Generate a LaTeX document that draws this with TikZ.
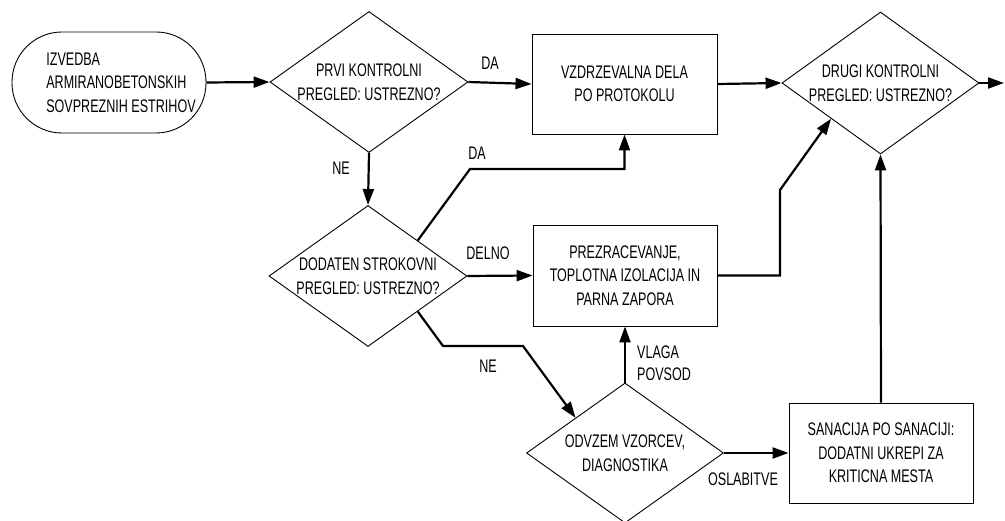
\documentclass[tikz,border=0pt]{standalone}
\usepackage{fontspec}
\setmainfont{Liberation Sans}[FakeStretch=0.69]
\usetikzlibrary{shapes.geometric,arrows.meta}
\tikzset{
  txt/.style={font=\fontsize{18.2}{23.5}\selectfont, align=center},
  procbox/.style={txt, draw, line width=0.9pt, minimum width=184pt, minimum height=100pt, inner sep=0pt},
  decbox/.style={txt, draw, diamond, line width=0.9pt, aspect=1.4, inner sep=0pt, minimum width=198pt, minimum height=141pt},
  termbox/.style={txt, draw, line width=0.9pt, rounded corners=50pt, minimum width=194pt, minimum height=101pt, inner sep=0pt, align=left},
  flow/.style={line width=2.2pt, -{Triangle[length=16pt,width=11pt]}},
  lbl/.style={font=\fontsize{18.2}{22}\selectfont, inner sep=0pt}
}
\begin{document}
\begin{tikzpicture}[x=1pt,y=-1pt]
\useasboundingbox (0,0) rectangle (1005,521);
\node[termbox] (start) at (109,82.5) {\hspace*{24pt}IZVEDBA\\\hspace*{24pt}ARMIRANOBETONSKIH\\\hspace*{24pt}SOVPREZNIH ESTRIHOV};
\node[decbox] (d1) at (369,82) {PRVI KONTROLNI\\PREGLED: USTREZNO?};
\node[procbox, minimum width=185pt] (b2) at (624.5,84) {VZDRZEVALNA DELA\\PO PROTOKOLU};
\node[decbox, minimum width=197pt, minimum height=142pt] (d3) at (880.5,83) {DRUGI KONTROLNI\\PREGLED: USTREZNO?};
\node[decbox] (d2) at (368,276) {DODATEN STROKOVNI\\PREGLED: USTREZNO?};
\node[procbox, minimum height=101pt] (b3) at (625,275.5) {PREZRACEVANJE,\\TOPLOTNA IZOLACIJA IN\\PARNA ZAPORA};
\node[decbox, minimum width=197pt, minimum height=140pt] (d4) at (625,453) {ODVZEM VZORCEV,\\DIAGNOSTIKA};
\node[procbox] (b4) at (881,453) {SANACIJA PO SANACIJI:\\DODATNI UKREPI ZA\\KRITICNA MESTA};
\coordinate (out) at (1004,83);

\draw[flow] (start.east) -- (d1.west);
\draw[flow] (d1.east) -- (b2.west);
\draw[flow] (b2.east) -- (d3.west);
\draw[flow] (d3.east) -- (out);
\draw[flow] (d1.south) -- (d2.north);
\draw[flow] (d2.north east) -- (470,169) -| (b2.south);
\draw[flow] (d2.east) -- (b3.west);
\draw[flow] (d2.south east) -- (443,346) -- (523,346) -- (d4.north west);
\draw[flow] (d4.north) -- (b3.south);
\draw[flow] (d4.east) -- (b4.west);
\draw[flow] (b4.north) -- (d3.south);
\draw[flow] (b3.east) -- (780,275.5) -- (780,190) -- (d3.south west);

\node[lbl] (lda1) at (490,63) {DA};
\node[lbl] (lne1) at (341,168) {NE};
\node[lbl] (lda2) at (477,153) {DA};
\node[lbl] (ldelno) at (488,253) {DELNO};
\node[lbl] (lne2) at (488,366) {NE};
\node[lbl, align=left, anchor=west] (lvlaga) at (637,363) {VLAGA\\POVSOD};
\node[lbl] (losl) at (743,479) {OSLABITVE};
\end{tikzpicture}
\end{document}
